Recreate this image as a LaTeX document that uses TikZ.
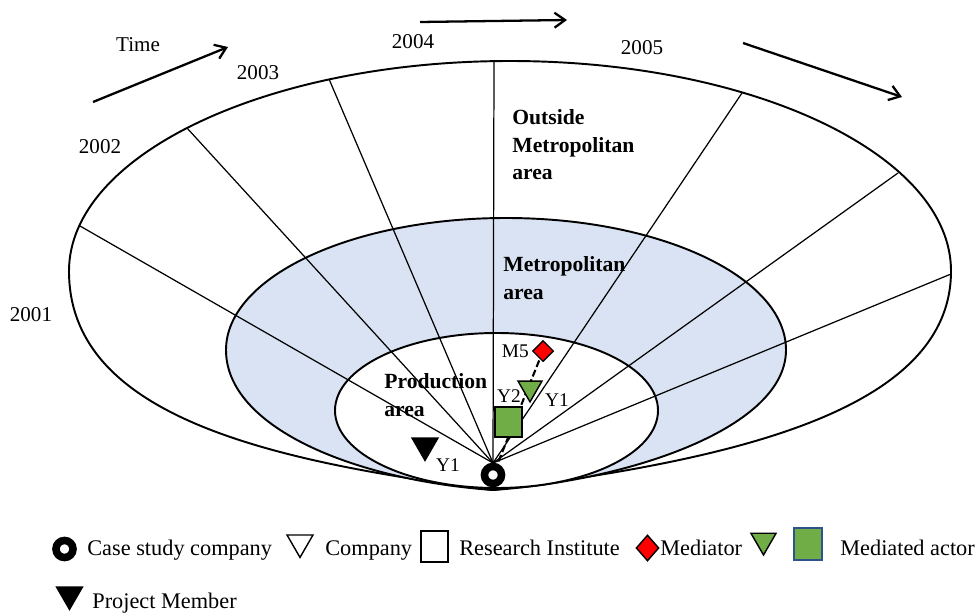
\documentclass[tikz,border=0pt]{standalone}
\usepackage{fontspec}
\setmainfont{Liberation Serif}
\usepackage{xcolor}
\usetikzlibrary{positioning,shapes.geometric,arrows.meta}
\definecolor{metroblue}{RGB}{218,227,243}
\definecolor{actgreen}{RGB}{112,173,71}
\definecolor{actedge}{RGB}{47,82,143}

\begin{document}
\begin{tikzpicture}[x=0.02cm, y=0.02cm,
    zone/.style={draw=black, line width=1.1pt},
    ray/.style={draw=black, line width=0.7pt},
    timearr/.style={-{Straight Barb[length=6pt,width=8.5pt]}, line width=1.3pt},
    yr/.style={inner sep=0pt, font=\fontsize{12}{14}\selectfont},
    areatxt/.style={inner sep=0pt, anchor=west, align=left,
                    font=\fontsize{12.3}{15.6}\selectfont\bfseries},
    lbl/.style={inner sep=0pt, font=\fontsize{11}{13}\selectfont},
    legtxt/.style={inner sep=0pt, anchor=base west, font=\fontsize{12.7}{15}\selectfont},
    firm/.style={circle, draw=black, line width=4.3pt, fill=white,
                 minimum size=9.7pt, inner sep=0pt},
    tri/.style={regular polygon, regular polygon sides=3, shape border rotate=180,
                draw=black, line width=0.8pt, minimum size=17pt, inner sep=0pt},
    med/.style={diamond, draw=black, fill=red, line width=0.8pt,
                minimum width=12pt, minimum height=12pt, inner sep=0pt},
    inst/.style={rectangle, draw=black, line width=0.8pt,
                 minimum width=15.4pt, minimum height=17.1pt, inner sep=0pt},
    dashln/.style={line width=1.2pt, dash pattern=on 4pt off 1.8pt}
  ]
  \useasboundingbox (0,0) rectangle (977,613);

  % outside metropolitan area
  \draw[zone, fill=white] (493,123) .. controls (253,153) and (69,202) .. (69,342)
     arc[start angle=180, end angle=0, x radius=441, y radius=210]
     .. controls (951,202) and (733,153) .. (493,123) -- cycle;
  % metropolitan area
  \draw[zone, fill=metroblue] (493,123) .. controls (353,133) and (226,186) .. (226,263)
     arc[start angle=180, end angle=0, x radius=280, y radius=132]
     .. controls (786,186) and (633,133) .. (493,123) -- cycle;
  % production area
  \draw[zone, fill=white] (496.5,202.5) ellipse [x radius=161.5, y radius=77.5];

  % year sectors
  \coordinate (focus) at (493,150);
  \foreach \x/\y [count=\i] in {80/387, 187/485, 329/534, 494/552, 742/520, 898/440, 951/339}
    \coordinate (rim\i) at (\x,\y);
  \foreach \i in {1,...,7}
    \draw[ray] (focus) -- (rim\i);

  % actors
  \coordinate (medc) at (543,262);
  \coordinate (firmc) at (493,138);
  \draw[dashln] (medc) -- (firmc);
  \node[med] (m5) at (medc) {};
  \node[tri, fill=actgreen, minimum size=15.8pt] (ytri) at (530,225) {};
  \node[inst, fill=actgreen] (ysq) at (508.5,191) {};
  \node[tri, fill=black] (pm) at (425,167.5) {};
  \node[firm] (cs) at (firmc) {};

  \node[lbl, left=1.5pt of m5] (m5lbl) {M5};
  \node[lbl] (y2lbl) at (509,217) {Y2};
  \node[lbl] (y1lbl) at (557,213) {Y1};
  \node[lbl] (pmlbl) at (448,148) {Y1};

  % area names
  \node[areatxt] (outside) at (512,468) {Outside\\Metropolitan\\area};
  \node[areatxt] (metro) at (503,335) {Metropolitan\\area};
  \node[areatxt] (prod) at (384,218) {Production\\area};

  % years and time arrows
  \node[yr] (y2001) at (31,298) {2001};
  \node[yr] (y2002) at (100,466) {2002};
  \node[yr] (y2003) at (258,540) {2003};
  \node[yr] (y2004) at (413,571) {2004};
  \node[yr] (y2005) at (642,565) {2005};
  \node[yr] (time) at (138,568) {Time};
  \coordinate (ta1) at (93,511);  \coordinate (tb1) at (228,566);
  \coordinate (ta2) at (420,591); \coordinate (tb2) at (567,593);
  \coordinate (ta3) at (743,570); \coordinate (tb3) at (902,516);
  \foreach \i in {1,2,3}
    \draw[timearr] (ta\i) -- (tb\i);

  % legend
  \node[firm] (lgcs) at (64.5,64) {};
  \node[legtxt] (lgcstxt) at (87,58) {Case study company};
  \node[tri, fill=white] (lgco) at (300,70.5) {};
  \node[legtxt] (lgcotxt) at (325,58) {Company};
  \node[inst, fill=white, minimum height=17.6pt] (lgri) at (434.5,66.5) {};
  \node[legtxt] (lgritxt) at (459,58) {Research Institute};
  \node[med, minimum width=13pt, minimum height=14.8pt] (lgmed) at (647.5,65) {};
  \node[legtxt] (lgmedtxt) at (660,58) {Mediator};
  \node[tri, fill=actgreen, minimum size=16.5pt] (lgtri) at (763.5,72.5) {};
  \node[inst, fill=actgreen, draw=actedge, minimum width=15.9pt,
        minimum height=18.2pt] (lgsq) at (808,69) {};
  \node[legtxt] (lgsqtxt) at (840,58) {Mediated actor};
  \node[tri, fill=black] (lgpm) at (69.5,18.5) {};
  \node[legtxt] (lgpmtxt) at (92,5) {Project Member};
\end{tikzpicture}
\end{document}
